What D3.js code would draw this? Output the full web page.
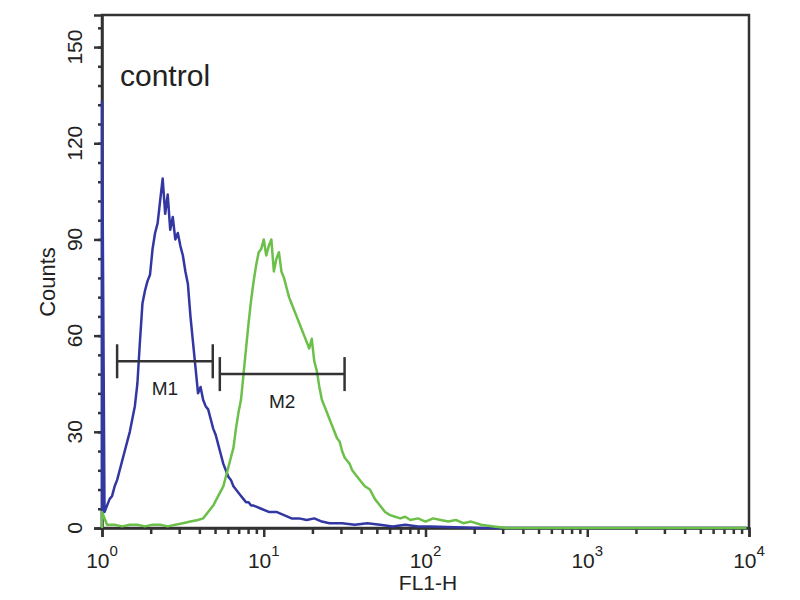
<!DOCTYPE html>
<html>
<head>
<meta charset="utf-8">
<script src="https://cdn.jsdelivr.net/npm/d3@7"></script>
<style>
  body { margin: 0; background: #fff; }
  text { font-family: "Liberation Sans", Arial, sans-serif; fill: #222; }
</style>
</head>
<body>
<script>
// histogram channels (256 per 4 decades) and counts
let blueCh = [0, 0, 1, 2, 3, 4, 5, 6, 7, 8, 9, 10, 11, 12, 13, 14, 15, 16, 17, 18, 19,
  20, 21, 22, 23, 24, 25, 26, 27, 28, 29, 30, 31, 32, 33, 34, 35, 36, 37, 38, 39,
  40, 41, 42, 43, 44, 45, 46, 47, 48, 49, 50, 51, 52, 53, 54, 55, 56, 57, 58, 59, 60,
  63, 66, 69, 72, 75, 78, 81, 84, 87, 90, 95, 100, 105, 110, 115, 120, 125, 130, 140, 150, 255];
let blueCounts = [0, 133, 5, 7, 9, 10, 13, 15, 18, 21, 24, 27, 30, 34, 38, 45, 58, 70, 74, 77, 79,
  87, 92, 95, 102, 109, 98, 104, 93, 97, 90, 92, 88, 85, 80, 76, 66, 58, 50, 42, 44,
  40, 38, 37, 34, 31, 29, 26, 23, 20, 18, 16, 15, 13, 12, 11, 10, 9, 8, 8, 7, 7,
  6, 5, 5, 4, 3, 3, 2.5, 3, 2, 1.5, 1.5, 1, 1.5, 1, 0.5, 1, 0.5, 0.5, 0.2, 0, 0];

let greenCh = [0, 0, 2, 5, 8, 11, 14, 17, 20, 23, 26, 29, 32, 35, 38, 40, 42, 44, 46, 48, 49,
  50, 51, 52, 53, 54, 55, 56, 57, 58, 59, 60, 61, 62, 63, 64, 65, 66, 67, 68, 69, 70,
  71, 72, 73, 74, 75, 76, 77, 78, 79, 80, 81, 82, 83, 84, 85, 86, 87, 88, 89, 90,
  91, 92, 93, 94, 95, 96, 97, 98, 99, 100, 101, 102, 104, 106, 108, 110, 112, 114, 116,
  118, 120, 122, 125, 128, 131, 134, 137, 140, 143, 146, 150, 155, 160, 255];
let greenCounts = [0, 5, 1, 1, 0.5, 1, 1, 0.5, 1, 1, 0.5, 1, 1.5, 2, 2.5, 3, 5, 7, 10, 13, 16,
  19, 22, 25, 31, 36, 40, 48, 56, 64, 71, 77, 82, 86, 87, 90, 85, 88, 90, 80, 84, 86,
  80, 78, 75, 72, 70, 68, 66, 64, 62, 60, 58, 56, 59, 52, 49, 44, 40, 38, 36, 34,
  32, 30, 28, 27, 24, 22, 21, 20, 18, 17, 16, 15, 13, 12, 9, 7, 5, 4, 3.5,
  3, 3.5, 2.5, 3, 2, 3, 2.5, 2, 2.5, 1.5, 2, 1, 0.5, 0, 0];

let xTickValues = [1, 10, 100, 1000, 10000];
let xTickExponents = ['0', '1', '2', '3', '4'];
let yTickValues = [0, 30, 60, 90, 120, 150];

let markerNames = ['M1', 'M2'];
let markerStart = [1.24, 5.35];
let markerEnd = [4.84, 31.6];
let markerLevel = [52, 48];

let width = 800;
let height = 600;
let plotLeft = 102, plotRight = 749, plotTop = 15, plotBottom = 528;

let svg = d3.select('body').append('svg')
  .attr('width', width)
  .attr('height', height);

let x = d3.scaleLog().domain([1, 10000]).range([plotLeft, plotRight]);
let y = d3.scaleLinear().domain([0, 160]).range([plotBottom, plotTop]);
let chToValue = c => Math.pow(10, c / 64);

// frame
svg.append('rect')
  .attr('x', plotLeft).attr('y', plotTop)
  .attr('width', plotRight - plotLeft).attr('height', plotBottom - plotTop)
  .attr('fill', 'none').attr('stroke', '#333').attr('stroke-width', 2.5);

// x axis: minor ticks, major ticks
let xMinor = [];
xTickValues.slice(0, 4).forEach(d => { for (let k = 2; k < 10; k++) xMinor.push(d * k); });

svg.append('g')
  .attr('transform', `translate(0,${plotBottom})`)
  .call(d3.axisBottom(x).tickValues(xMinor).tickSize(6).tickFormat(''))
  .call(g => g.select('.domain').remove())
  .selectAll('line').attr('stroke', '#333').attr('stroke-width', 2.5);

svg.append('g')
  .attr('transform', `translate(0,${plotBottom})`)
  .call(d3.axisBottom(x).tickValues(xTickValues).tickSize(9).tickFormat(''))
  .call(g => g.select('.domain').attr('stroke', '#333').attr('stroke-width', 2.5))
  .selectAll('line').attr('stroke', '#333').attr('stroke-width', 2.5);

let xLabels = svg.selectAll('.xlab').data(xTickValues).enter()
  .append('text')
  .attr('class', 'xlab')
  .attr('x', d => x(d))
  .attr('y', 568)
  .attr('text-anchor', 'middle')
  .attr('font-size', 21);
xLabels.append('tspan').text('10');
xLabels.append('tspan').attr('dy', -12).attr('font-size', 15)
  .text((d, i) => xTickExponents[i]);

svg.append('text')
  .attr('x', 428).attr('y', 590)
  .attr('text-anchor', 'middle')
  .attr('font-size', 21)
  .text('FL1-H');

// y axis
let yMinor = d3.range(0, 157, 6);
svg.append('g')
  .attr('transform', `translate(${plotLeft},0)`)
  .call(d3.axisLeft(y).tickValues(yMinor).tickSize(4).tickFormat(''))
  .call(g => g.select('.domain').remove())
  .selectAll('line').attr('stroke', '#333').attr('stroke-width', 2.5);

svg.append('g')
  .attr('transform', `translate(${plotLeft},0)`)
  .call(d3.axisLeft(y).tickValues(yTickValues).tickSize(8).tickFormat(''))
  .call(g => g.select('.domain').attr('stroke', '#333').attr('stroke-width', 2.5))
  .selectAll('line').attr('stroke', '#333').attr('stroke-width', 2.5);

svg.selectAll('.ylab').data(yTickValues).enter()
  .append('text')
  .attr('class', 'ylab')
  .attr('transform', d => `translate(82,${y(d)}) rotate(-90)`)
  .attr('text-anchor', 'middle')
  .attr('font-size', 21)
  .text(d => d);

svg.append('text')
  .attr('transform', 'translate(55,282) rotate(-90)')
  .attr('text-anchor', 'middle')
  .attr('font-size', 22)
  .text('Counts');

svg.append('text')
  .attr('x', 120).attr('y', 86)
  .attr('font-size', 30)
  .text('control');

// histograms
let line = d3.line()
  .x(d => x(chToValue(d[0])))
  .y(d => y(d[1]));

svg.append('path')
  .datum(blueCh.map((c, i) => [c, blueCounts[i]]))
  .attr('d', line)
  .attr('fill', 'none')
  .attr('stroke', '#3237a2')
  .attr('stroke-width', 2.5)
  .attr('stroke-linejoin', 'round');

svg.append('path')
  .datum(greenCh.map((c, i) => [c, greenCounts[i]]))
  .attr('d', line)
  .attr('fill', 'none')
  .attr('stroke', '#6cc04a')
  .attr('stroke-width', 2.5)
  .attr('stroke-linejoin', 'round');

// markers
markerNames.forEach((name, i) => {
  let g = svg.append('g').attr('stroke', '#333').attr('stroke-width', 2.5);
  let x0 = x(markerStart[i]), x1 = x(markerEnd[i]), yy = y(markerLevel[i]);
  g.append('line').attr('x1', x0).attr('x2', x1).attr('y1', yy).attr('y2', yy);
  g.append('line').attr('x1', x0).attr('x2', x0).attr('y1', yy - 17).attr('y2', yy + 17);
  g.append('line').attr('x1', x1).attr('x2', x1).attr('y1', yy - 17).attr('y2', yy + 17);
  svg.append('text')
    .attr('x', (x0 + x1) / 2)
    .attr('y', yy + 34)
    .attr('text-anchor', 'middle')
    .attr('font-size', 19)
    .text(name);
});
</script>
</body>
</html>
